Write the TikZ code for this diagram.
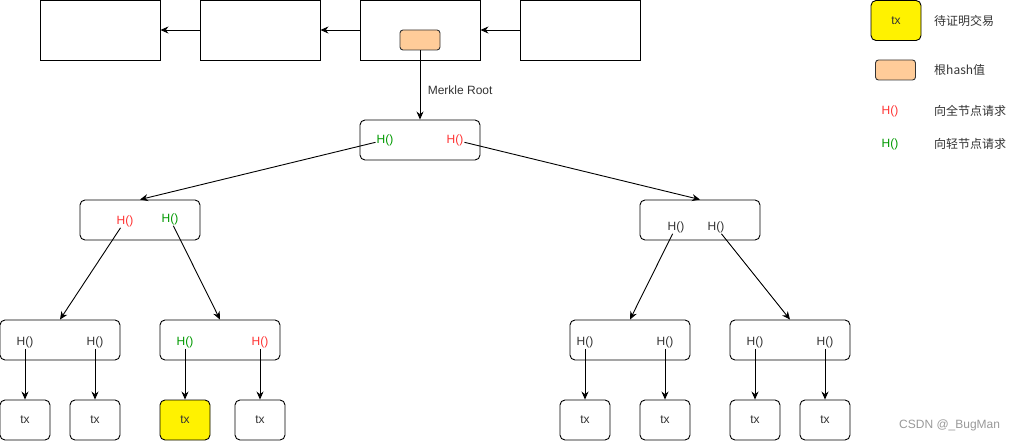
\documentclass[tikz,border=0pt]{standalone}
\usepackage{fontspec}
\setmainfont{Liberation Sans}
\newfontfamily\cjk{Noto Sans CJK SC}
\usetikzlibrary{arrows.meta}
\definecolor{hashred}{HTML}{FF3333}
\definecolor{hashgreen}{HTML}{009900}
\definecolor{rootfill}{HTML}{FFCC99}
\definecolor{txtgray}{HTML}{333333}
\begin{document}
\begin{tikzpicture}[
    x=1pt, y=-1pt,
    font=\fontsize{12}{14}\selectfont,
    block/.style={draw, line width=0.9pt, minimum width=120pt, minimum height=60pt, inner sep=0pt},
    hashnode/.style={draw, rounded corners=5pt, line width=0.9pt, minimum width=120pt, minimum height=40pt, inner sep=0pt},
    txbox/.style={draw, rounded corners=5pt, line width=0.9pt, minimum width=50pt, minimum height=40pt, inner sep=0pt, text=txtgray},
    roothash/.style={draw=black!80, fill=rootfill, rounded corners=3pt, line width=0.9pt, minimum width=40pt, minimum height=20pt, inner sep=0pt},
    hfun/.style={inner sep=1pt, text=txtgray},
    hfull/.style={hfun, text=hashred},
    hlight/.style={hfun, text=hashgreen},
    link/.style={-{Stealth[length=8pt, width=7pt]}, line width=0.9pt},
    legend/.style={anchor=west, inner sep=0pt, text=txtgray, font=\fontsize{12}{14}\selectfont\cjk}
]
    \useasboundingbox (0,0) rectangle (1016,441);

    \node[block] (b1) at (100,30) {};
    \node[block] (b2) at (260,30) {};
    \node[block] (b3) at (420,30) {};
    \node[block] (b4) at (580,30) {};
    \node[roothash] (hash) at (420,40) {};

    \draw[link] (b2) -- (b1);
    \draw[link] (b3) -- (b2);
    \draw[link] (b4) -- (b3);

    \node[hashnode] (root) at (420,140) {};
    \node[hlight] (rootg) at (385,140) {H()};
    \node[hfull] (rootr) at (455,140) {H()};
    \draw[link] (hash) -- node[right, pos=0.57, xshift=4pt, text=txtgray] {Merkle Root} (root);

    \node[hashnode] (l) at (140,220) {};
    \node[hfull] (lr) at (125,221) {H()};
    \node[hlight] (lg) at (170,219) {H()};
    \node[hashnode] (r) at (700,220) {};
    \node[hfun] (r1) at (676,227) {H()};
    \node[hfun] (r2) at (716,227) {H()};

    \draw[link] (rootg) -- (l.north);
    \draw[link] (rootr) -- (r.north);

    \node[hashnode] (ll) at (60,340) {};
    \node[hfun] (ll1) at (25,342) {H()};
    \node[hfun] (ll2) at (95,342) {H()};
    \node[hashnode] (lm) at (220,340) {};
    \node[hlight] (lm1) at (185,342) {H()};
    \node[hfull] (lm2) at (260,342) {H()};
    \node[hashnode] (rl) at (630,340) {};
    \node[hfun] (rl1) at (585,342) {H()};
    \node[hfun] (rl2) at (665,342) {H()};
    \node[hashnode] (rm) at (790,340) {};
    \node[hfun] (rm1) at (755,342) {H()};
    \node[hfun] (rm2) at (825,342) {H()};

    \draw[link] (lr) -- (ll.north);
    \draw[link] (lg) -- (lm.north);
    \draw[link] (r1) -- (rl.north);
    \draw[link] (r2) -- (rm.north);

    \node[txbox] (t1) at (25,420) {tx};
    \node[txbox] (t2) at (95,420) {tx};
    \node[txbox, fill=yellow] (t3) at (185,420) {tx};
    \node[txbox] (t4) at (260,420) {tx};
    \node[txbox] (t5) at (585,420) {tx};
    \node[txbox] (t6) at (665,420) {tx};
    \node[txbox] (t7) at (755,420) {tx};
    \node[txbox] (t8) at (825,420) {tx};

    \draw[link] (ll1) -- (t1.north);
    \draw[link] (ll2) -- (t2.north);
    \draw[link] (lm1) -- (t3.north);
    \draw[link] (lm2) -- (t4.north);
    \draw[link] (rl1) -- (t5.north);
    \draw[link] (rl2) -- (t6.north);
    \draw[link] (rm1) -- (t7.north);
    \draw[link] (rm2) -- (t8.north);

    \node[txbox, fill=yellow] (keytx) at (896,20.5) {tx};
    \node[legend] (keytxtext) at (934,21) {待证明交易};
    \node[roothash] (keyhash) at (895.5,70) {};
    \node[legend] (keyhashtext) at (934,70) {根hash值};
    \node[hfull] (keyfull) at (890,111) {H()};
    \node[legend] (keyfulltext) at (934,111) {向全节点请求};
    \node[hlight] (keylight) at (890,144) {H()};
    \node[legend] (keylighttext) at (934,144) {向轻节点请求};

    \node[anchor=west, inner sep=0pt, text=black!40] (mark) at (899,425) {CSDN @\_BugMan};
\end{tikzpicture}
\end{document}
